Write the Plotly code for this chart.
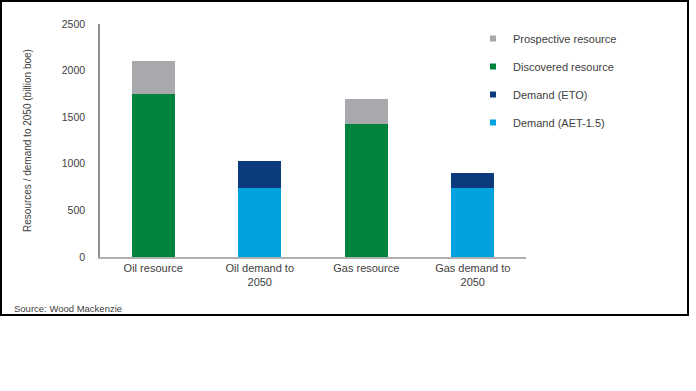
import plotly.graph_objects as go

categories = ["Oil resource", "Oil demand to<br>2050", "Gas resource", "Gas demand to<br>2050"]
discovered = [1750, None, 1430, None]
prospective = [350, None, 260, None]
demand_aet = [None, 740, None, 740]
demand_eto = [None, 290, None, 160]
y_ticks = [0, 500, 1000, 1500, 2000, 2500]

series = [
    ("Discovered resource", discovered, "#00843D"),
    ("Prospective resource", prospective, "#A8A9AD"),
    ("Demand (AET-1.5)", demand_aet, "#00A3E0"),
    ("Demand (ETO)", demand_eto, "#0B3A7D"),
]

FONT = "Liberation Sans, Arial, sans-serif"
TXT = "#404040"

fig = go.Figure()
for name, vals, col in series:
    fig.add_trace(go.Bar(x=categories, y=vals, name=name, marker_color=col,
                         marker_line_width=0, showlegend=False))

legend_order = ["Prospective resource", "Discovered resource", "Demand (ETO)", "Demand (AET-1.5)"]
cmap = {n: c for n, _, c in series}
for i, n in enumerate(legend_order):
    fig.add_trace(go.Scatter(x=[None], y=[None], mode="markers", name=n,
                             marker=dict(symbol="square", size=6, color=cmap[n]),
                             legendgroup=f"g{i}", showlegend=True))

W, H = 696, 391
L, R, T, B = 100, 526, 24, 257

def px(x):
    return (x - L) / (R - L)

def py(y):
    return (B - y) / (B - T)

fig.add_shape(type="rect", xref="paper", yref="paper",
              x0=px(1), x1=px(688), y0=py(315), y1=py(1),
              line=dict(color="black", width=2), fillcolor="rgba(0,0,0,0)", layer="below")

fig.add_annotation(text="Source: Wood Mackenzie", xref="paper", yref="paper",
                   x=px(12), y=py(308), xanchor="left", yanchor="middle",
                   showarrow=False, font=dict(family=FONT, size=9.5, color=TXT))

fig.update_layout(
    width=W, height=H,
    margin=dict(l=L, r=W - R, t=T, b=H - B, autoexpand=False),
    paper_bgcolor="white", plot_bgcolor="white",
    barmode="stack", bargap=0.6,
    font=dict(family=FONT, color=TXT),
    showlegend=True,
    legend=dict(x=px(473), y=py(24), xanchor="left", yanchor="top",
                font=dict(family=FONT, size=11, color=TXT),
                tracegroupgap=9, bgcolor="rgba(0,0,0,0)",
                traceorder="grouped"),
    xaxis=dict(showline=True, linecolor="#B0B0B0", linewidth=1.5,
               tickfont=dict(family=FONT, size=11, color=TXT),
               ticks="", showgrid=False),
    yaxis=dict(range=[0, 2500], tickvals=y_ticks, showline=True,
               linecolor="#909090", linewidth=1.5, showgrid=False, zeroline=False,
               ticks="", ticklabelstandoff=11,
               tickfont=dict(family=FONT, size=10.5, color=TXT),
               title=dict(text="Resources / demand to 2050 (billion boe)",
                          font=dict(family=FONT, size=10, color=TXT), standoff=28)),
)

fig.write_html("out.html", config={"displayModeBar": False},
               post_script="document.body.style.margin='0px';")
